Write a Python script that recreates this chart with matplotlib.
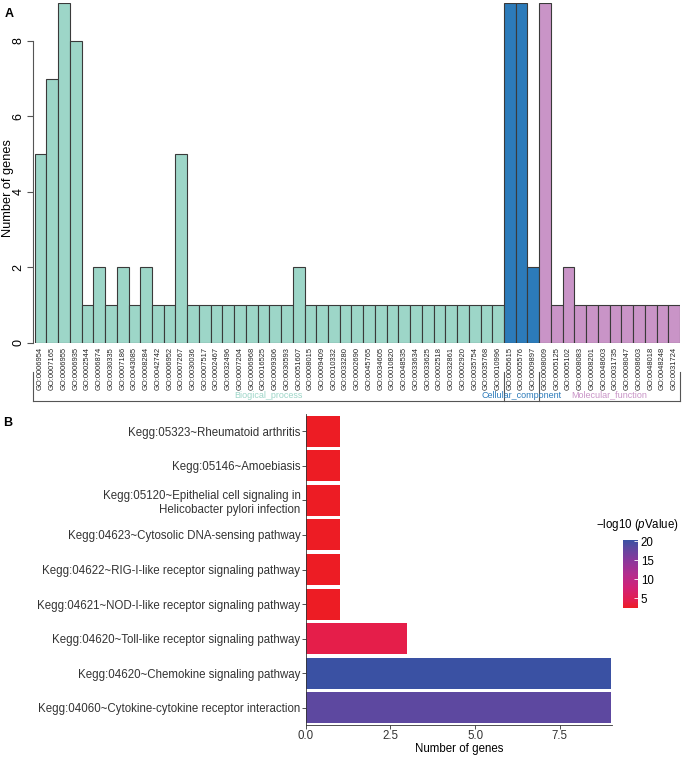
import matplotlib
matplotlib.use('Agg')
import matplotlib.pyplot as plt
from matplotlib.colors import LinearSegmentedColormap, Normalize
from matplotlib.transforms import blended_transform_factory
from matplotlib.cm import ScalarMappable

plt.rcParams['font.family'] = ['Liberation Sans', 'DejaVu Sans']
plt.rcParams['mathtext.fontset'] = 'custom'
plt.rcParams['mathtext.rm'] = 'Liberation Sans'
plt.rcParams['mathtext.it'] = 'Liberation Sans:italic'

# パネルA: GO terms
go_ids = ['GO:0006954', 'GO:0007165', 'GO:0006955', 'GO:0006935', 'GO:0002544',
          'GO:0006874', 'GO:0030335', 'GO:0007186', 'GO:0043085', 'GO:0008284',
          'GO:0042742', 'GO:0006952', 'GO:0007267', 'GO:0030036', 'GO:0007517',
          'GO:0002467', 'GO:0032496', 'GO:0007204', 'GO:0006968', 'GO:0016525',
          'GO:0009306', 'GO:0030593', 'GO:0051607', 'GO:0008015', 'GO:0009409',
          'GO:0010332', 'GO:0033280', 'GO:0002690', 'GO:0045765', 'GO:0034605',
          'GO:0010820', 'GO:0048535', 'GO:0033634', 'GO:0033625', 'GO:0002518',
          'GO:0032861', 'GO:0002920', 'GO:0035754', 'GO:0035768', 'GO:0010996',
          'GO:0005615', 'GO:0005576', 'GO:0009897',
          'GO:0008009', 'GO:0005125', 'GO:0005102', 'GO:0008083', 'GO:0008201',
          'GO:0048603', 'GO:0031735', 'GO:0008047', 'GO:0008603', 'GO:0048018',
          'GO:0048248', 'GO:0031724']
go_counts = [5, 7, 9, 8, 1, 2, 1, 2, 1, 2, 1, 1, 5, 1, 1, 1, 1, 1, 1, 1,
             1, 1, 2, 1, 1, 1, 1, 1, 1, 1, 1, 1, 1, 1, 1, 1, 1, 1, 1, 1,
             9, 9, 2,
             9, 1, 2, 1, 1, 1, 1, 1, 1, 1, 1, 1]
group_names = ['Biogical_process', 'Cellular_component', 'Molecular_function']
group_sizes = [40, 3, 12]
group_colors = ['#9dd6c8', '#2c7bba', '#c994c7']

# パネルB: KEGG
kegg_terms = ['Kegg:05323~Rheumatoid arthritis',
              'Kegg:05146~Amoebiasis',
              'Kegg:05120~Epithelial cell signaling in\nHelicobacter pylori infection',
              'Kegg:04623~Cytosolic DNA-sensing pathway',
              'Kegg:04622~RIG-I-like receptor signaling pathway',
              'Kegg:04621~NOD-I-like receptor signaling pathway',
              'Kegg:04620~Toll-like receptor signaling pathway',
              'Kegg:04620~Chemokine signaling pathway',
              'Kegg:04060~Cytokine-cytokine receptor interaction']
kegg_counts = [1, 1, 1, 1, 1, 1, 3, 9, 9]
kegg_logp = [2.4, 2.4, 2.4, 2.4, 2.4, 2.4, 4.1, 20.3, 18.2]

W, H = 683, 758
fig = plt.figure(figsize=(W / 100, H / 100), dpi=100)

# ---- A ----
ax1 = fig.add_axes([34.7 / W, 1 - 343 / H, 645.3 / W, 340 / H])
bar_colors = []
for name, n, c in zip(group_names, group_sizes, group_colors):
    bar_colors += [c] * n
xs = list(range(len(go_ids)))
ax1.bar(xs, go_counts, width=1.0, color=bar_colors, edgecolor='#3a3a3a', linewidth=0.8)
ax1.set_xlim(-0.5, len(go_ids) - 0.5)
ax1.set_ylim(0, 9)
for s in ['top', 'right', 'bottom']:
    ax1.spines[s].set_visible(False)
ax1.spines['left'].set_bounds(0, 8)
ax1.spines['left'].set_color('#555555')
ax1.spines['left'].set_position(('outward', 1.5))
ax1.set_yticks([0, 2, 4, 6, 8])
ax1.set_yticklabels(['0', '2', '4', '6', '8'], rotation=90, va='center', fontsize=9)
ax1.tick_params(axis='y', length=4.3, width=0.8, color='#555555', pad=1.5)
ax1.set_xticks(xs)
ax1.set_xticklabels(go_ids, rotation=90, fontsize=5.4, color='#222222')
ax1.tick_params(axis='x', length=0, pad=2.9)

fig.text(8 / W, 1 - 188 / H, 'Number of genes', rotation=90, ha='center', va='center', fontsize=9.2)
fig.text(9 / W, 1 - 14 / H, 'A', ha='center', va='center', fontsize=9, fontweight='bold')

# グループの括弧
tr = blended_transform_factory(ax1.transData, fig.transFigure)
y_line = 1 - 401 / H
y_top = 1 - 372 / H
x_left = -0.64
x_right = len(go_ids) - 0.5
ax1.plot([x_left, x_right], [y_line, y_line], transform=tr, color='#555555', lw=0.8, clip_on=False)
edges = [x_left]
start = 0
for n in group_sizes:
    start += n
    edges.append(start - 0.5)
edges[-1] = x_right
for e in edges:
    ax1.plot([e, e], [y_line, y_top], transform=tr, color='#555555', lw=0.8, clip_on=False)
for i, (name, c) in enumerate(zip(group_names, group_colors)):
    cx = (edges[i] + edges[i + 1]) / 2
    ax1.text(cx, 1 - 395 / H, name, transform=tr, ha='center', va='center', fontsize=6.5, color=c)

# ---- B ----
cmap = LinearSegmentedColormap.from_list('rb', [
    (0.0, '#ED1C24'), (0.1, '#E41E4C'), (0.3, '#D12276'), (0.5, '#B22D8F'),
    (0.7, '#8A389C'), (0.88, '#5E48A0'), (1.0, '#3A51A3')])
norm = Normalize(vmin=min(kegg_logp), vmax=max(kegg_logp))

ax2 = fig.add_axes([305.7 / W, 1 - 725 / H, 306 / W, 311 / H])
ys = list(range(len(kegg_terms)))[::-1]
ax2.barh(ys, kegg_counts, height=0.9, color=cmap(norm(kegg_logp)), edgecolor='none')
ax2.set_ylim(-0.5, len(kegg_terms) - 0.5)
ax2.set_xlim(0, 9.03)
ax2.set_yticks(ys)
ax2.set_yticklabels(kegg_terms, fontsize=8.3, color='#333333', ha='right', multialignment='right')
ax2.set_xticks([0, 2.5, 5, 7.5])
ax2.set_xticklabels(['0.0', '2.5', '5.0', '7.5'], fontsize=8.3, color='#333333')
ax2.tick_params(length=2.75, width=0.6, color='#333333', pad=1)
for s in ['top', 'right']:
    ax2.spines[s].set_visible(False)
for s in ['left', 'bottom']:
    ax2.spines[s].set_color('#333333')
    ax2.spines[s].set_linewidth(0.6)
ax2.set_xlabel('Number of genes', fontsize=8.3, labelpad=0.5)
fig.text(8 / W, 1 - 423 / H, 'B', ha='center', va='center', fontsize=9, fontweight='bold')

# カラーバー
cax = fig.add_axes([623 / W, 1 - 608 / H, 15 / W, 68 / H])
cb = fig.colorbar(ScalarMappable(norm=norm, cmap=cmap), cax=cax, ticks=[5, 10, 15, 20])
cb.outline.set_visible(False)
cb.ax.tick_params(length=3, width=0.6, color='white', direction='in', labelsize=8.3, pad=2)
fig.text(637 / W, 1 - 525 / H, '\u2212log10 ($\\mathit{p}$Value)', ha='center', va='center', fontsize=8.3)

fig.savefig('out.png', dpi=100)
